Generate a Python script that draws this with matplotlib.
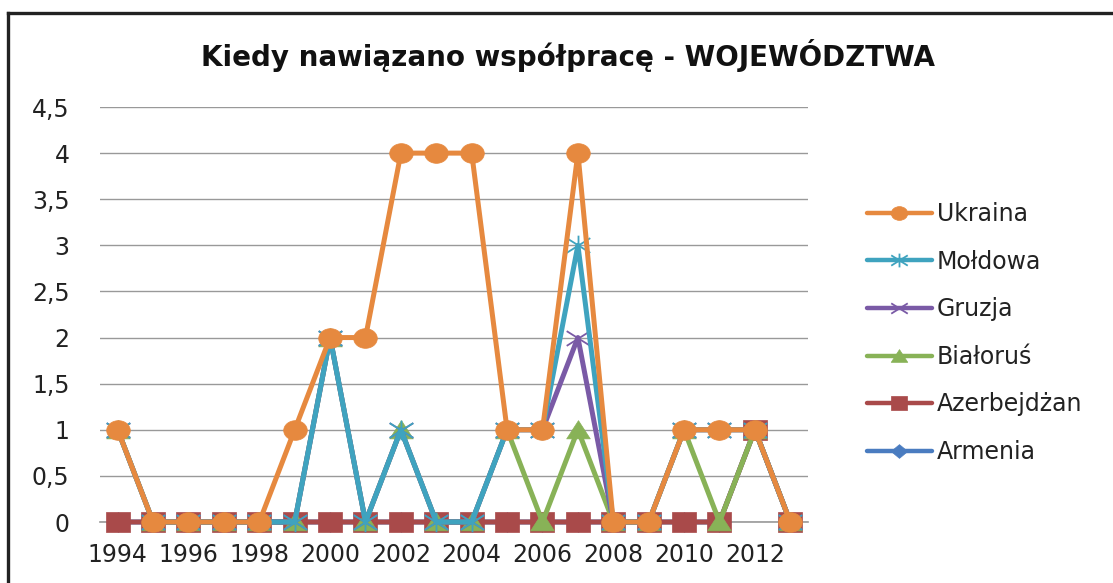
import matplotlib
matplotlib.use("Agg")
import matplotlib.pyplot as plt
import numpy as np
from matplotlib.path import Path
from matplotlib.lines import Line2D

years = list(range(1994, 2014))
series_names = ["Ukraina", "Mołdowa", "Gruzja", "Białoruś", "Azerbejdżan", "Armenia"]
ukraina     = [1, 0, 0, 0, 0, 1, 2, 2, 4, 4, 4, 1, 1, 4, 0, 0, 1, 1, 1, 0]
moldowa     = [1, 0, 0, 0, 0, 0, 2, 0, 1, 0, 0, 1, 1, 3, 0, 0, 1, 1, 1, 0]
gruzja      = [1, 0, 0, 0, 0, 0, 2, 0, 1, 0, 0, 1, 1, 2, 0, 0, 1, 1, 1, 0]
bialorus    = [1, 0, 0, 0, 0, 0, 2, 0, 1, 0, 0, 1, 0, 1, 0, 0, 1, 0, 1, 0]
azerbejdzan = [0, 0, 0, 0, 0, 0, 0, 0, 0, 0, 0, 0, 0, 0, 0, 0, 0, 0, 1, 0]
armenia     = [0, 0, 0, 0, 0, 0, 0, 0, 0, 0, 0, 0, 0, 0, 0, 0, 0, 0, 1, 0]
x_tick_labels = ["1994", "1996", "1998", "2000", "2002", "2004", "2006", "2008", "2010", "2012"]
y_ticks = [0, 0.5, 1, 1.5, 2, 2.5, 3, 3.5, 4, 4.5]
y_tick_labels = ["0", "0,5", "1", "1,5", "2", "2,5", "3", "3,5", "4", "4,5"]
title = "Kiedy nawiązano współpracę - WOJEWÓDZTWA"

plt.rcParams['font.family'] = ['DejaVu Sans']

W, H = 1113, 583
fig = plt.figure(figsize=(W / 100, H / 100), dpi=100)
fig.patch.set_facecolor('white')

ax = fig.add_axes([100 / W, (H - 522) / H, (808 - 100) / W, (522 - 107) / H])

# custom markers (slightly wide, like the reference)
asp = 1.2
def scaled(path):
    v = path.vertices.copy()
    v[:, 0] *= asp
    return Path(v, path.codes)

circle = scaled(Path.unit_circle())
square = Path([(-asp, -1), (asp, -1), (asp, 1), (-asp, 1), (-asp, -1)],
              [Path.MOVETO, Path.LINETO, Path.LINETO, Path.LINETO, Path.CLOSEPOLY])
tri = Path([(-asp, -0.85), (asp, -0.85), (0, 1), (-asp, -0.85)],
           [Path.MOVETO, Path.LINETO, Path.LINETO, Path.CLOSEPOLY])
diamond = Path([(0, -1), (asp, 0), (0, 1), (-asp, 0), (0, -1)],
               [Path.MOVETO, Path.LINETO, Path.LINETO, Path.LINETO, Path.CLOSEPOLY])
xmark = Path([(-asp, -0.75), (asp, 0.75), (-asp, 0.75), (asp, -0.75)],
             [Path.MOVETO, Path.LINETO, Path.MOVETO, Path.LINETO])
astmark = Path([(-asp, -0.75), (asp, 0.75), (-asp, 0.75), (asp, -0.75), (0, -1), (0, 1)],
               [Path.MOVETO, Path.LINETO, Path.MOVETO, Path.LINETO, Path.MOVETO, Path.LINETO])

data = [ukraina, moldowa, gruzja, bialorus, azerbejdzan, armenia]
colors = ['#E6893F', '#3FA3BF', '#7A5AA6', '#88B257', '#A94A4A', '#4A7CC0']
markers = [circle, astmark, xmark, tri, square, diamond]
filled = [True, False, False, True, True, True]

handles = []
for i, (name, vals, c, m, f) in enumerate(zip(series_names, data, colors, markers, filled)):
    z = 10 - i
    if f:
        ln, = ax.plot(years, vals, color=c, lw=3.6, marker=m, markersize=17,
                      markerfacecolor=c, markeredgecolor=c, markeredgewidth=0.5,
                      zorder=z, label=name, solid_capstyle='round', solid_joinstyle='round')
    else:
        ln, = ax.plot(years, vals, color=c, lw=3.6, marker=m, markersize=17,
                      markerfacecolor='none', markeredgecolor=c, markeredgewidth=1.3,
                      zorder=z, label=name, solid_capstyle='round', solid_joinstyle='round')
    ln.set_clip_on(False)
    handles.append(ln)

ax.set_xlim(1993.5, 2013.5)
ax.set_ylim(0, 4.5)
ax.set_yticks(y_ticks)
ax.set_yticklabels(y_tick_labels)
ax.set_xticks([int(s) for s in x_tick_labels])
ax.set_xticklabels(x_tick_labels)
ax.tick_params(axis='both', length=0, labelsize=17, colors='#222222')
ax.tick_params(axis='y', pad=22)
ax.tick_params(axis='x', pad=15)
ax.grid(axis='y', color='#999999', lw=1.0, zorder=0)
ax.axhline(0, color='#999999', lw=1.2, zorder=0.5, clip_on=False)
ax.set_axisbelow(True)
for s in ax.spines.values():
    s.set_visible(False)

fig.text(568 / W, 1 - 55 / H, title, ha='center', va='center', fontsize=20,
         fontweight='bold', color='#111111')

leg = ax.legend(handles=handles, loc='upper left', bbox_to_anchor=(867 / W, 1 - 202 / H),
                bbox_transform=fig.transFigure, frameon=False, fontsize=17,
                handlelength=2.75, handletextpad=0.2, labelspacing=1.0,
                borderpad=0, borderaxespad=0, markerscale=0.7)
for t in leg.get_texts():
    t.set_color('#222222')
for lh in leg.get_lines():
    lh.set_linewidth(3.2)

# outer chart frame (top and left edges visible)
fig.add_artist(Line2D([8 / W, 1.0], [1 - 13 / H, 1 - 13 / H], transform=fig.transFigure,
                      color='#222222', lw=2.4))
fig.add_artist(Line2D([8 / W, 8 / W], [0, 1 - 13 / H], transform=fig.transFigure,
                      color='#222222', lw=2.4))

fig.savefig('out.png', dpi=100, facecolor='white')
